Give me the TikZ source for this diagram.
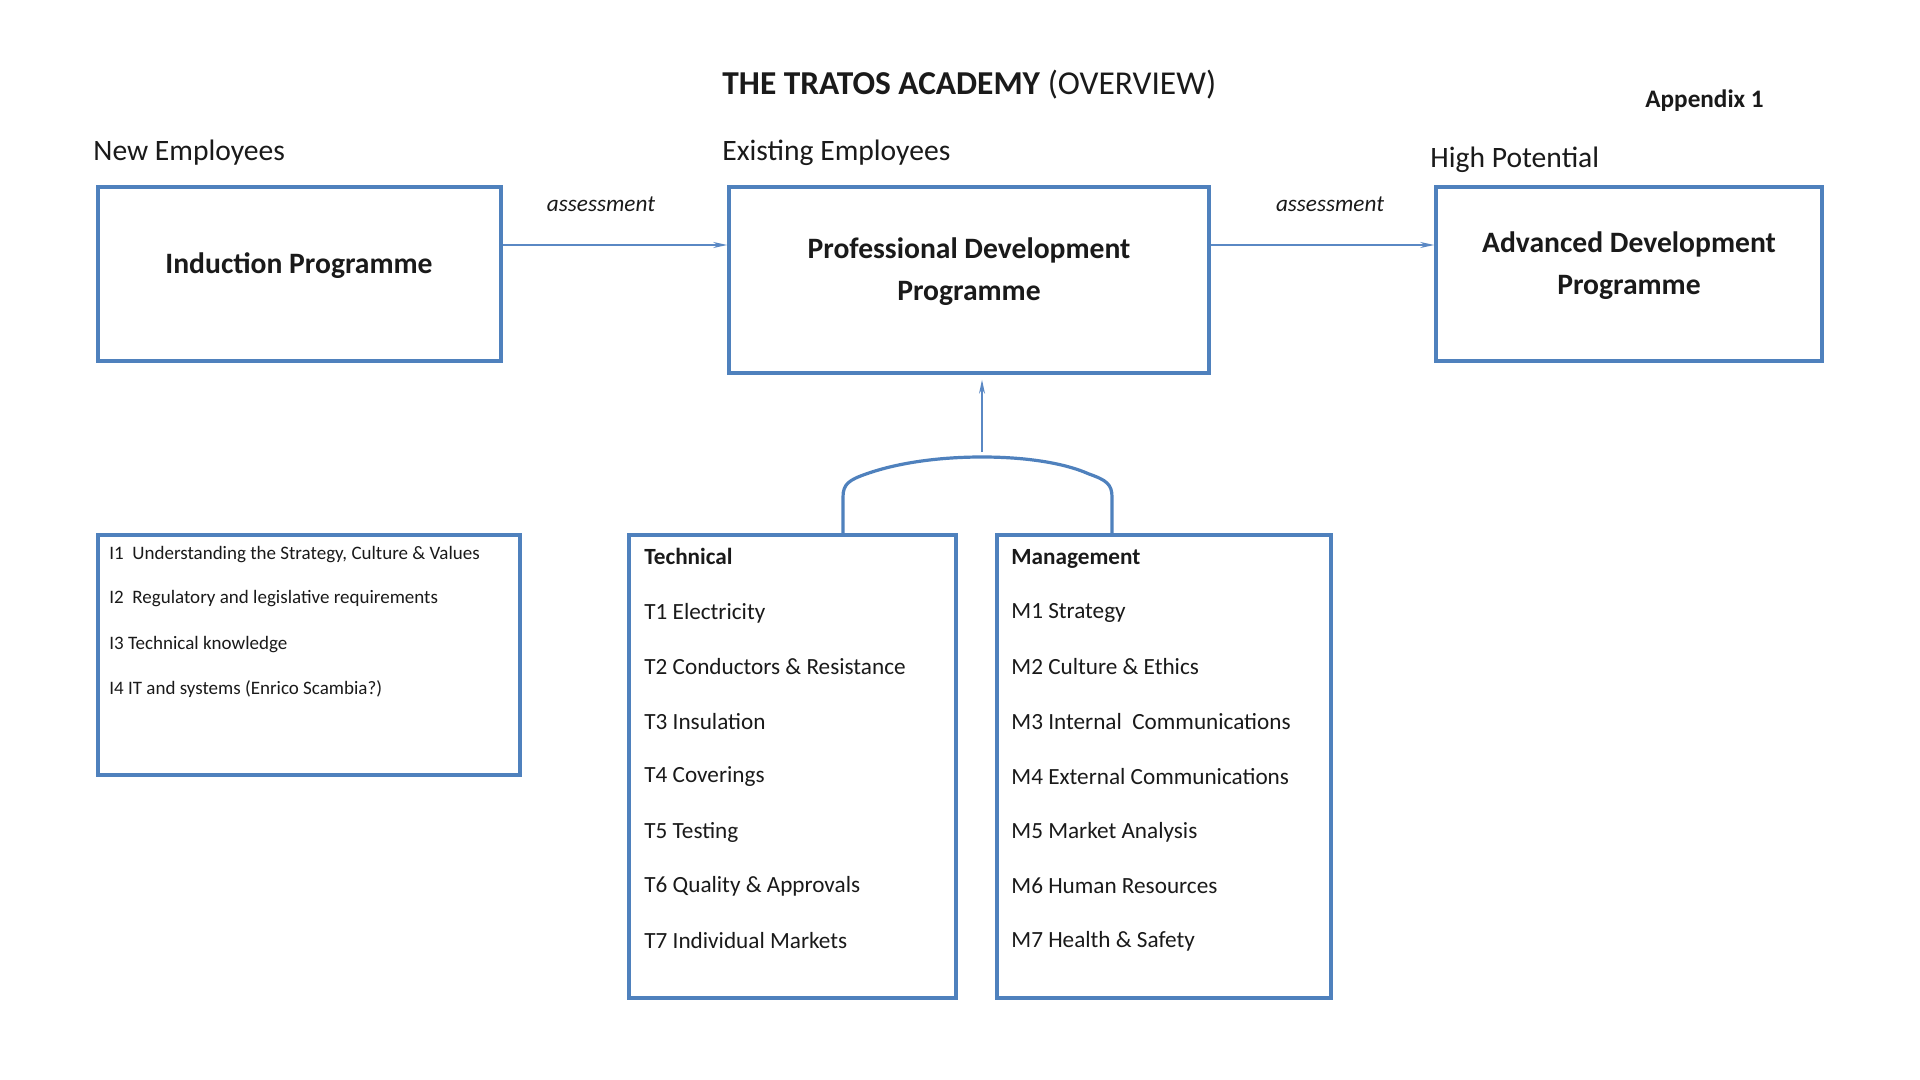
\documentclass[tikz,border=0pt]{standalone}
\usepackage{fontspec}
\setmainfont{Carlito}
\usetikzlibrary{arrows.meta}
\definecolor{boxblue}{HTML}{4F81BD}
\definecolor{arrblue}{HTML}{5A88C4}
\definecolor{ink}{HTML}{1A1A1A}
\begin{document}
\begin{tikzpicture}[x=0.5pt,y=-0.5pt,
  prog/.style={draw=boxblue,line width=1.8pt,inner sep=0pt},
  arr/.style={draw=arrblue,line width=0.7pt,-{Stealth[length=7pt,width=3pt]}},
  link/.style={draw=boxblue,line width=1.6pt},
  head/.style={text=ink,font=\fontsize{14.8}{18}\selectfont,anchor=west,inner sep=0pt},
  ptitle/.style={text=ink,font=\fontsize{14.8}{21}\selectfont\bfseries,align=center,inner sep=0pt},
  item/.style={text=ink,font=\fontsize{11.6}{14}\selectfont,anchor=west,inner sep=0pt},
  iitem/.style={text=ink,font=\fontsize{9.5}{12}\selectfont,anchor=west,inner sep=0pt},
  lab/.style={text=ink,font=\fontsize{11.6}{14}\selectfont\itshape,inner sep=0pt}]
\useasboundingbox (0,0) rectangle (1920,1080);
\fill[white] (0,0) rectangle (1920,1080);

% title and headings
\node[text=ink,font=\fontsize{16.7}{20}\selectfont,anchor=west,inner sep=0pt] (title) at (722,84.5) {\textbf{THE TRATOS ACADEMY} (OVERVIEW)};
\node[text=ink,font=\fontsize{12.6}{15}\selectfont\bfseries,anchor=west,inner sep=0pt] (app) at (1645,100.5) {Appendix 1};
\node[head] (hnew) at (93,153) {New Employees};
\node[head] (hexist) at (722,152.5) {Existing Employees};
\node[head] (hhigh) at (1430,160) {High Potential};

% programme boxes
\node[prog,minimum width=201.5pt,minimum height=87pt] (ind) at (299.5,274) {};
\node[prog,minimum width=240pt,minimum height=93pt] (pdp) at (969,280) {};
\node[prog,minimum width=193pt,minimum height=87pt] (adp) at (1629,274) {};
\node[ptitle] (tind) at (299,265.5) {Induction Programme};
\node[ptitle] (tpdp) at (969,271.5) {Professional Development\\Programme};
\node[ptitle] (tadp) at (1629,265.5) {Advanced Development\\Programme};

% assessment arrows
\coordinate (ay) at (0,245);
\draw[arr] (ind.east |- ay) -- (pdp.west |- ay);
\draw[arr] (pdp.east |- ay) -- (adp.west |- ay);
\node[lab] (as1) at (601,204.5) {assessment};
\node[lab] (as2) at (1330,204.5) {assessment};

% lower boxes
\node[prog,minimum width=211pt,minimum height=120pt] (ibox) at (309,655) {};
\node[prog,minimum width=163.5pt,minimum height=231.5pt] (tech) at (792.5,766.5) {};
\node[prog,minimum width=167pt,minimum height=231.5pt] (mgmt) at (1164,766.5) {};

% connector arc
\coordinate (al) at (843,535);
\coordinate (ar) at (1112,535);
\coordinate (atop) at (982,457);
\draw[link] (tech.north -| al) -- (843,497) .. controls (843,484) and (849,480) .. (866,474)
  .. controls (900,462) and (942,457) .. (atop)
  .. controls (1022,457) and (1062,462) .. (1089,474)
  .. controls (1106,480) and (1112,484) .. (1112,497) -- (mgmt.north -| ar);
\draw[arr,shorten >=2.5pt] ([yshift=2.5pt]atop) -- (atop |- pdp.south);

% induction items
\node[iitem] (i1) at (109,554.5) {I1\ \ Understanding the Strategy, Culture \& Values};
\node[iitem] (i2) at (109,598.5) {I2\ \ Regulatory and legislative requirements};
\node[iitem] (i3) at (109,644.5) {I3 Technical knowledge};
\node[iitem] (i4) at (109,689.5) {I4 IT and systems (Enrico Scambia?)};

% technical items
\node[item,font=\fontsize{11.6}{14}\selectfont\bfseries] (th) at (644,556) {Technical};
\node[item] (t1) at (644,613) {T1 Electricity};
\node[item] (t2) at (644,667) {T2 Conductors \& Resistance};
\node[item] (t3) at (644,722) {T3 Insulation};
\node[item] (t4) at (644,777) {T4 Coverings};
\node[item] (t5) at (644,832) {T5 Testing};
\node[item] (t6) at (644,886) {T6 Quality \& Approvals};
\node[item] (t7) at (644,941) {T7 Individual Markets};

% management items
\node[item,font=\fontsize{11.6}{14}\selectfont\bfseries] (mh) at (1011,558.5) {Management};
\node[item] (m1) at (1011,613) {M1 Strategy};
\node[item] (m2) at (1011,667) {M2 Culture \& Ethics};
\node[item] (m3) at (1011,722) {M3 Internal\ \ Communications};
\node[item] (m4) at (1011,777) {M4 External Communications};
\node[item] (m5) at (1011,832) {M5 Market Analysis};
\node[item] (m6) at (1011,886) {M6 Human Resources};
\node[item] (m7) at (1011,941) {M7 Health \& Safety};
\end{tikzpicture}
\end{document}
